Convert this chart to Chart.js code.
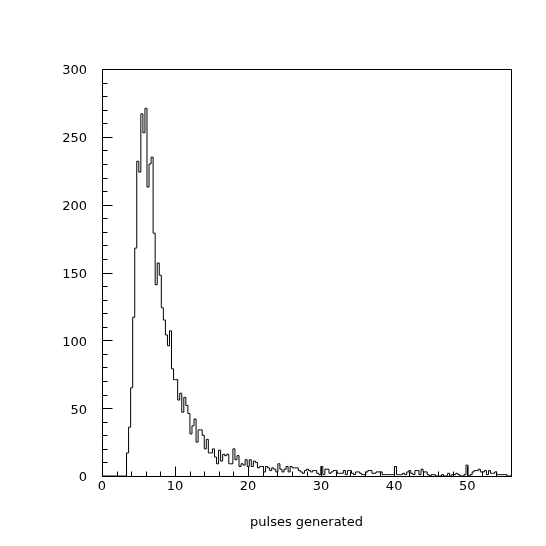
<!DOCTYPE html>
<html>
<head>
<meta charset="utf-8">
<script src="https://cdn.jsdelivr.net/npm/chart.js@4/dist/chart.umd.min.js"></script>
<style>
  html, body { margin: 0; padding: 0; background: #fff; }
  #wrap { width: 546px; height: 546px; }
</style>
</head>
<body>
<div id="wrap"><canvas id="hist" width="546" height="546"></canvas></div>
<script>
// Histogram range and binning
const xMin = 0;
const xMax = 56;
const yMin = 0;
const yMax = 300;
const nBins = 200;

// Entries per bin (20 bins per row)
const binCounts = [
    0, 0, 0, 0, 0, 0, 0, 0, 0, 0, 0, 0, 17, 36, 65, 117, 168, 232, 224, 267,
    253, 271, 213, 230, 235, 179, 141, 157, 148, 124, 115, 104, 96, 107, 79, 71, 71, 56, 61, 47,
    58, 52, 46, 31, 37, 42, 25, 34, 34, 30, 20, 27, 17, 17, 20, 14, 9, 19, 11, 16,
    15, 16, 9, 9, 20, 12, 15, 7, 9, 8, 12, 7, 12, 7, 11, 10, 6, 7, 7, 3,
    7, 6, 4, 6, 5, 3, 9, 5, 3, 5, 7, 3, 7, 6, 6, 6, 4, 3, 2, 4,
    5, 4, 3, 4, 4, 2, 1, 7, 1, 5, 5, 2, 3, 4, 4, 2, 2, 2, 4, 1,
    4, 4, 2, 1, 3, 3, 2, 1, 1, 3, 4, 4, 2, 2, 3, 3, 3, 1, 1, 1,
    1, 1, 1, 7, 1, 1, 1, 2, 1, 3, 4, 2, 1, 4, 4, 1, 5, 3, 3, 1,
    0, 1, 1, 0, 0, 0, 1, 0, 0, 2, 0, 1, 1, 2, 1, 0, 0, 1, 8, 0,
    1, 3, 4, 4, 5, 3, 3, 4, 1, 4, 2, 2, 3, 1, 1, 1, 1, 1, 0, 0
];

// Axis labelling
const xTickValues = [0, 10, 20, 30, 40, 50];
const yTickValues = [0, 50, 100, 150, 200, 250, 300];
const xMinorStep = 2;
const yMinorStep = 10;
const xTitle = 'pulses generated';

// Build step points at the left edge of each bin, plus the right edge
const binWidth = (xMax - xMin) / nBins;
const histPoints = binCounts.map((c, i) => ({ x: xMin + i * binWidth, y: c }));
histPoints.push({ x: xMax, y: binCounts[binCounts.length - 1] });

const labelFont = { family: 'DejaVu Sans', size: 13 };

// Box frame with inward tick marks, like the old HBOOK style
const frameTicks = {
    id: 'frameTicks',
    afterDraw(chart) {
        const { ctx, chartArea: a, scales: { x, y } } = chart;
        const left = Math.round(a.left) + 0.5;
        const right = Math.round(a.right) + 0.5;
        const top = Math.round(a.top) + 0.5;
        const bottom = Math.round(a.bottom) + 0.5;

        ctx.save();
        ctx.strokeStyle = '#000';
        ctx.lineWidth = 1;
        ctx.beginPath();
        ctx.rect(left, top, right - left, bottom - top);

        // x ticks, pointing up from the bottom edge
        for (let v = xMin; v <= xMax; v += xMinorStep) {
            const px = Math.round(x.getPixelForValue(v)) + 0.5;
            const len = v % 10 === 0 ? 10 : 5;
            ctx.moveTo(px, bottom);
            ctx.lineTo(px, bottom - len);
        }

        // y ticks, pointing right from the left edge
        for (let v = yMin; v <= yMax; v += yMinorStep) {
            const py = Math.round(y.getPixelForValue(v)) + 0.5;
            const len = v % 50 === 0 ? 10 : 5;
            ctx.moveTo(left, py);
            ctx.lineTo(left + len, py);
        }
        ctx.stroke();
        ctx.restore();
    }
};

new Chart(document.getElementById('hist'), {
    type: 'line',
    data: {
        datasets: [{
            data: histPoints,
            stepped: true,
            borderColor: '#000',
            borderWidth: 1,
            pointRadius: 0,
            fill: false,
            tension: 0
        }]
    },
    options: {
        responsive: false,
        animation: false,
        layout: { padding: { top: 69, right: 35, bottom: 0, left: 0 } },
        plugins: {
            legend: { display: false },
            tooltip: { enabled: false }
        },
        scales: {
            x: {
                type: 'linear',
                min: xMin,
                max: xMax,
                grid: { display: false, drawTicks: false },
                border: { display: false },
                afterBuildTicks: scale => {
                    scale.ticks = xTickValues.map(v => ({ value: v }));
                },
                afterFit: scale => { scale.height = 70; },
                ticks: {
                    color: '#000',
                    font: labelFont,
                    padding: 3,
                    maxRotation: 0,
                    autoSkip: false
                },
                title: {
                    display: true,
                    text: xTitle,
                    color: '#000',
                    font: labelFont,
                    padding: { top: 0, bottom: 16 }
                }
            },
            y: {
                type: 'linear',
                min: yMin,
                max: yMax,
                grid: { display: false, drawTicks: false },
                border: { display: false },
                afterBuildTicks: scale => {
                    scale.ticks = yTickValues.map(v => ({ value: v }));
                },
                afterFit: scale => { scale.width = 102; },
                ticks: {
                    color: '#000',
                    font: labelFont,
                    padding: 15,
                    labelOffset: 2
                }
            }
        }
    },
    plugins: [frameTicks]
});
</script>
</body>
</html>
